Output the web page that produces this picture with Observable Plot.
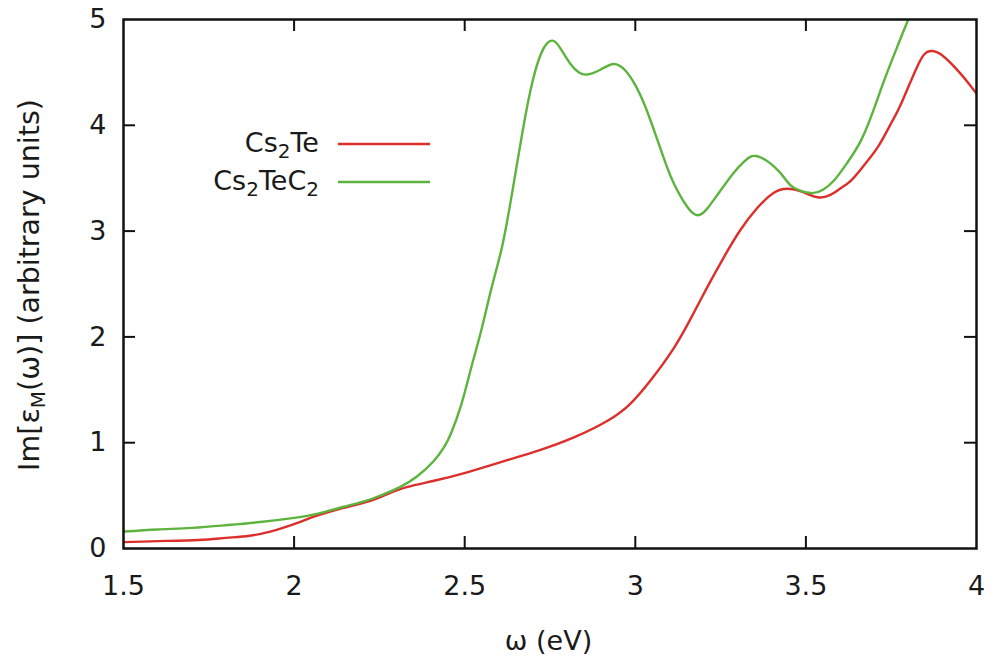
<!DOCTYPE html>
<html><head><meta charset="utf-8">
<script src="https://cdn.jsdelivr.net/npm/d3@7"></script>
<script src="https://cdn.jsdelivr.net/npm/@observablehq/plot@0.6"></script>
<style>body{margin:0;background:#fff}#chart{width:998px;height:658px;overflow:hidden}</style>
</head><body><div id="chart"></div>
<script>
// Cs2Te
const omegaCs2Te = [1.5,1.6,1.72,1.8,1.87,1.93,1.967,2.02,2.067,2.14,2.213,2.27,2.33,2.41,2.507,2.62,2.72,2.82,2.92,2.986,3.045,3.112,3.162,3.211,3.259,3.308,3.358,3.405,3.446,3.49,3.534,3.57,3.60,3.633,3.67,3.712,3.75,3.78,3.83,3.862,3.9,3.95,3.976,4.0];
const epsCs2Te   = [0.06,0.07,0.08,0.10,0.12,0.16,0.195,0.255,0.31,0.38,0.44,0.51,0.58,0.64,0.72,0.83,0.93,1.05,1.21,1.37,1.59,1.89,2.17,2.47,2.75,3.01,3.22,3.36,3.40,3.37,3.32,3.34,3.40,3.48,3.62,3.80,4.02,4.21,4.58,4.70,4.66,4.50,4.40,4.30];
// Cs2TeC2
const omegaCs2TeC2 = [1.5,1.6,1.7,1.8,1.9,2.0,2.07,2.14,2.21,2.26,2.31,2.36,2.41,2.44,2.46,2.49,2.52,2.55,2.58,2.61,2.64,2.67,2.70,2.73,2.757,2.78,2.81,2.835,2.86,2.9,2.937,2.97,3.0,3.03,3.065,3.09,3.113,3.15,3.183,3.21,3.24,3.288,3.32,3.354,3.407,3.44,3.465,3.515,3.55,3.583,3.62,3.662,3.7,3.73,3.77,3.8,3.84];
const epsCs2TeC2   = [0.16,0.18,0.195,0.22,0.25,0.29,0.33,0.39,0.45,0.51,0.58,0.68,0.83,0.96,1.09,1.36,1.72,2.08,2.48,2.86,3.38,3.95,4.43,4.72,4.80,4.73,4.58,4.50,4.48,4.53,4.58,4.52,4.38,4.17,3.86,3.63,3.45,3.24,3.15,3.21,3.34,3.55,3.66,3.71,3.61,3.49,3.41,3.36,3.39,3.48,3.64,3.86,4.16,4.43,4.76,5.0,5.3];

const seriesNames = ["Cs2Te", "Cs2TeC2"];
const seriesColors = ["#dc2f2b", "#5cb43e"];
const xTicks = [1.5, 2, 2.5, 3, 3.5, 4];
const yTicks = [0, 1, 2, 3, 4, 5];
const xLabel = "ω (eV)";

const W = 998, H = 658;
const mL = 123, mR = 22, mT = 19, mB = 110;
const pw = W - mL - mR, ph = H - mT - mB, tk = 12;
const font = "DejaVu Sans";

const rows = (xs, ys, s) => xs.map((x, i) => ({x, y: ys[i], s}));
const data = [...rows(omegaCs2Te, epsCs2Te, seriesNames[0]), ...rows(omegaCs2TeC2, epsCs2TeC2, seriesNames[1])];

const innerX = xTicks.slice(1, -1), innerY = yTicks.slice(1, -1);
const chart = Plot.plot({
  width: W, height: H,
  marginLeft: mL, marginRight: mR, marginTop: mT, marginBottom: mB,
  style: {fontFamily: font, color: "#1a1a1a", background: "#fff"},
  x: {domain: [1.5, 4]},
  y: {domain: [0, 5]},
  color: {domain: seriesNames, range: seriesColors},
  marks: [
    Plot.line(data, {x: "x", y: "y", z: "s", stroke: "s", strokeWidth: 2.4, curve: "natural", clip: true}),
    Plot.tickX(innerX, {x: d => d, insetTop: ph - tk, stroke: "#111", strokeWidth: 2}),
    Plot.tickX(innerX, {x: d => d, insetBottom: ph - tk, stroke: "#111", strokeWidth: 2}),
    Plot.tickY(innerY, {y: d => d, insetRight: pw - tk, stroke: "#111", strokeWidth: 2}),
    Plot.tickY(innerY, {y: d => d, insetLeft: pw - tk, stroke: "#111", strokeWidth: 2}),
    Plot.frame({stroke: "#111", strokeWidth: 2.5}),
    Plot.axisX({ticks: xTicks, tickSize: 0, tickPadding: 27, fontSize: 27, label: null, tickFormat: d => String(d)}),
    Plot.axisY({ticks: yTicks, tickSize: 0, tickPadding: 17, fontSize: 27, label: null, tickFormat: d => String(d)})
  ]
});
document.getElementById("chart").appendChild(chart);

const svg = d3.select(chart);
// x label
svg.append("text").attr("x", mL + pw / 2 - 1).attr("y", 650).attr("text-anchor", "middle")
  .attr("font-family", font).attr("font-size", 27).attr("fill", "#1a1a1a").text(xLabel);
// y label with subscript M
const yl = svg.append("text").attr("transform", "translate(39,285) rotate(-90)").attr("text-anchor", "middle")
  .attr("font-family", font).attr("font-size", 28.5).attr("fill", "#1a1a1a");
yl.append("tspan").text("Im[ε");
yl.append("tspan").attr("font-size", 20).attr("dy", 6).text("M");
yl.append("tspan").attr("dy", -6).text("(ω)] (arbitrary units)");

// legend
const legend = [
  {parts: [["Cs", 0], ["2", 1], ["Te", 0]], color: seriesColors[0]},
  {parts: [["Cs", 0], ["2", 1], ["TeC", 0], ["2", 1]], color: seriesColors[1]}
];
legend.forEach((item, i) => {
  const yb = 152 + i * 38;
  const t = svg.append("text").attr("x", 319).attr("y", yb).attr("text-anchor", "end")
    .attr("font-family", font).attr("font-size", 27).attr("fill", "#1a1a1a");
  let prev = 0;
  item.parts.forEach(([s, sub]) => {
    const dy = (sub ? 6 : 0) - prev;
    t.append("tspan").attr("dy", dy).attr("font-size", sub ? 20 : 27).text(s);
    prev = sub ? 6 : 0;
  });
  svg.append("line").attr("x1", 338).attr("x2", 430).attr("y1", yb - 8).attr("y2", yb - 8)
    .attr("stroke", item.color).attr("stroke-width", 2.4);
});
</script></body></html>
